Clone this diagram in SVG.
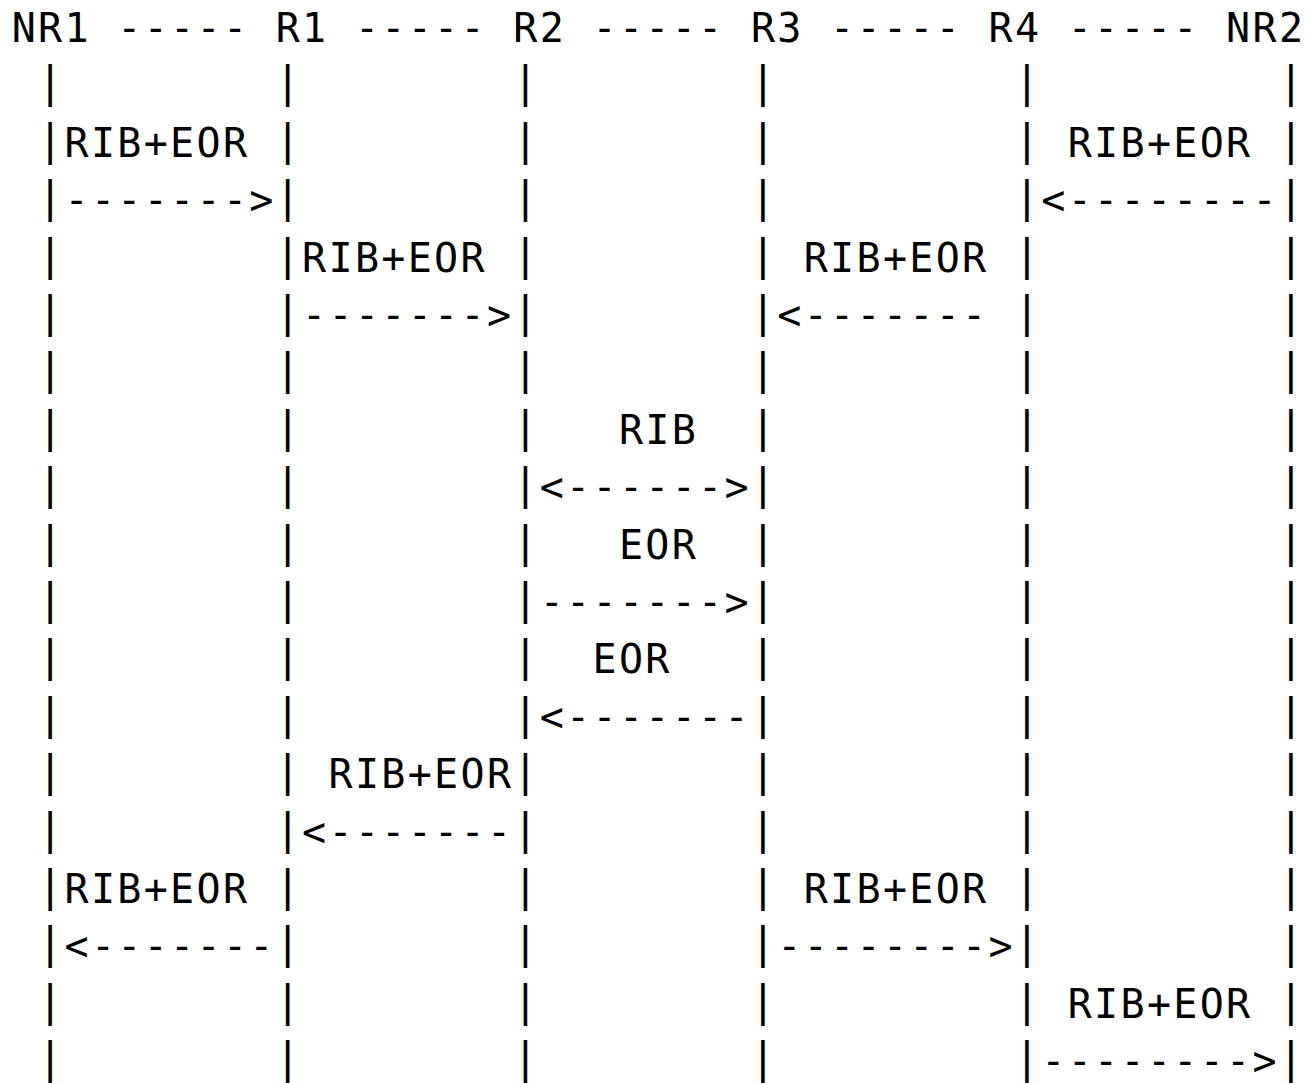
<svg xmlns="http://www.w3.org/2000/svg" width="1308" height="1083" viewBox="0 0 1308 1083">
<style>
text { font-family: "DejaVu Sans Mono", "Liberation Mono", monospace; font-size: 40px; letter-spacing: 2.32px; fill: #000; white-space: pre; }
.bar { font-size: 42px; letter-spacing: 0; text-anchor: middle; }
</style>
<rect x="0" y="0" width="1308" height="1083" fill="#fff"/>
<g id="nodes">
  <g id="node-NR1"><text x="11.7" y="42">NR1</text></g>
  <g id="node-R1"><text x="275.7" y="42">R1</text></g>
  <g id="node-R2"><text x="513.3" y="42">R2</text></g>
  <g id="node-R3"><text x="750.9" y="42">R3</text></g>
  <g id="node-R4"><text x="988.5" y="42">R4</text></g>
  <g id="node-NR2"><text x="1226.1" y="42">NR2</text></g>
</g>
<g id="connectors">
  <g id="links">
    <text x="117.3" y="42">-----</text>
    <text x="354.9" y="42">-----</text>
    <text x="592.5" y="42">-----</text>
    <text x="830.1" y="42">-----</text>
    <text x="1067.7" y="42">-----</text>
  </g>
  <g id="lifelines">
    <text id="life-NR1" class="bar"><tspan x="50.1" y="97.4">|</tspan><tspan x="50.1" y="154.8">|</tspan><tspan x="50.1" y="212.2">|</tspan><tspan x="50.1" y="269.6">|</tspan><tspan x="50.1" y="327">|</tspan><tspan x="50.1" y="384.4">|</tspan><tspan x="50.1" y="441.8">|</tspan><tspan x="50.1" y="499.2">|</tspan><tspan x="50.1" y="556.6">|</tspan><tspan x="50.1" y="614">|</tspan><tspan x="50.1" y="671.4">|</tspan><tspan x="50.1" y="728.8">|</tspan><tspan x="50.1" y="786.2">|</tspan><tspan x="50.1" y="843.6">|</tspan><tspan x="50.1" y="901">|</tspan><tspan x="50.1" y="958.4">|</tspan><tspan x="50.1" y="1015.8">|</tspan><tspan x="50.1" y="1073.2">|</tspan></text>
    <text id="life-R1" class="bar"><tspan x="287.7" y="97.4">|</tspan><tspan x="287.7" y="154.8">|</tspan><tspan x="287.7" y="212.2">|</tspan><tspan x="287.7" y="269.6">|</tspan><tspan x="287.7" y="327">|</tspan><tspan x="287.7" y="384.4">|</tspan><tspan x="287.7" y="441.8">|</tspan><tspan x="287.7" y="499.2">|</tspan><tspan x="287.7" y="556.6">|</tspan><tspan x="287.7" y="614">|</tspan><tspan x="287.7" y="671.4">|</tspan><tspan x="287.7" y="728.8">|</tspan><tspan x="287.7" y="786.2">|</tspan><tspan x="287.7" y="843.6">|</tspan><tspan x="287.7" y="901">|</tspan><tspan x="287.7" y="958.4">|</tspan><tspan x="287.7" y="1015.8">|</tspan><tspan x="287.7" y="1073.2">|</tspan></text>
    <text id="life-R2" class="bar"><tspan x="525.3" y="97.4">|</tspan><tspan x="525.3" y="154.8">|</tspan><tspan x="525.3" y="212.2">|</tspan><tspan x="525.3" y="269.6">|</tspan><tspan x="525.3" y="327">|</tspan><tspan x="525.3" y="384.4">|</tspan><tspan x="525.3" y="441.8">|</tspan><tspan x="525.3" y="499.2">|</tspan><tspan x="525.3" y="556.6">|</tspan><tspan x="525.3" y="614">|</tspan><tspan x="525.3" y="671.4">|</tspan><tspan x="525.3" y="728.8">|</tspan><tspan x="525.3" y="786.2">|</tspan><tspan x="525.3" y="843.6">|</tspan><tspan x="525.3" y="901">|</tspan><tspan x="525.3" y="958.4">|</tspan><tspan x="525.3" y="1015.8">|</tspan><tspan x="525.3" y="1073.2">|</tspan></text>
    <text id="life-R3" class="bar"><tspan x="762.9" y="97.4">|</tspan><tspan x="762.9" y="154.8">|</tspan><tspan x="762.9" y="212.2">|</tspan><tspan x="762.9" y="269.6">|</tspan><tspan x="762.9" y="327">|</tspan><tspan x="762.9" y="384.4">|</tspan><tspan x="762.9" y="441.8">|</tspan><tspan x="762.9" y="499.2">|</tspan><tspan x="762.9" y="556.6">|</tspan><tspan x="762.9" y="614">|</tspan><tspan x="762.9" y="671.4">|</tspan><tspan x="762.9" y="728.8">|</tspan><tspan x="762.9" y="786.2">|</tspan><tspan x="762.9" y="843.6">|</tspan><tspan x="762.9" y="901">|</tspan><tspan x="762.9" y="958.4">|</tspan><tspan x="762.9" y="1015.8">|</tspan><tspan x="762.9" y="1073.2">|</tspan></text>
    <text id="life-R4" class="bar"><tspan x="1026.9" y="97.4">|</tspan><tspan x="1026.9" y="154.8">|</tspan><tspan x="1026.9" y="212.2">|</tspan><tspan x="1026.9" y="269.6">|</tspan><tspan x="1026.9" y="327">|</tspan><tspan x="1026.9" y="384.4">|</tspan><tspan x="1026.9" y="441.8">|</tspan><tspan x="1026.9" y="499.2">|</tspan><tspan x="1026.9" y="556.6">|</tspan><tspan x="1026.9" y="614">|</tspan><tspan x="1026.9" y="671.4">|</tspan><tspan x="1026.9" y="728.8">|</tspan><tspan x="1026.9" y="786.2">|</tspan><tspan x="1026.9" y="843.6">|</tspan><tspan x="1026.9" y="901">|</tspan><tspan x="1026.9" y="958.4">|</tspan><tspan x="1026.9" y="1015.8">|</tspan><tspan x="1026.9" y="1073.2">|</tspan></text>
    <text id="life-NR2" class="bar"><tspan x="1290.9" y="97.4">|</tspan><tspan x="1290.9" y="154.8">|</tspan><tspan x="1290.9" y="212.2">|</tspan><tspan x="1290.9" y="269.6">|</tspan><tspan x="1290.9" y="327">|</tspan><tspan x="1290.9" y="384.4">|</tspan><tspan x="1290.9" y="441.8">|</tspan><tspan x="1290.9" y="499.2">|</tspan><tspan x="1290.9" y="556.6">|</tspan><tspan x="1290.9" y="614">|</tspan><tspan x="1290.9" y="671.4">|</tspan><tspan x="1290.9" y="728.8">|</tspan><tspan x="1290.9" y="786.2">|</tspan><tspan x="1290.9" y="843.6">|</tspan><tspan x="1290.9" y="901">|</tspan><tspan x="1290.9" y="958.4">|</tspan><tspan x="1290.9" y="1015.8">|</tspan><tspan x="1290.9" y="1073.2">|</tspan></text>
  </g>
  <g id="messages">
    <g id="m1"><text x="64.5" y="156.8">RIB+EOR</text><text x="64.5" y="214.2">-------&gt;</text></g>
    <g id="m2"><text x="1067.7" y="156.8">RIB+EOR</text><text x="1041.3" y="214.2">&lt;--------</text></g>
    <g id="m3"><text x="302.1" y="271.6">RIB+EOR</text><text x="302.1" y="329">-------&gt;</text></g>
    <g id="m4"><text x="803.7" y="271.6">RIB+EOR</text><text x="777.3" y="329">&lt;-------</text></g>
    <g id="m5"><text x="618.9" y="443.8">RIB</text><text x="539.7" y="501.2">&lt;------&gt;</text></g>
    <g id="m6"><text x="618.9" y="558.6">EOR</text><text x="539.7" y="616">-------&gt;</text></g>
    <g id="m7"><text x="592.5" y="673.4">EOR</text><text x="539.7" y="730.8">&lt;-------</text></g>
    <g id="m8"><text x="328.5" y="788.2">RIB+EOR</text><text x="302.1" y="845.6">&lt;-------</text></g>
    <g id="m9"><text x="64.5" y="903">RIB+EOR</text><text x="64.5" y="960.4">&lt;-------</text></g>
    <g id="m10"><text x="803.7" y="903">RIB+EOR</text><text x="777.3" y="960.4">--------&gt;</text></g>
    <g id="m11"><text x="1067.7" y="1017.8">RIB+EOR</text><text x="1041.3" y="1075.2">--------&gt;</text></g>
  </g>
</g>
</svg>
